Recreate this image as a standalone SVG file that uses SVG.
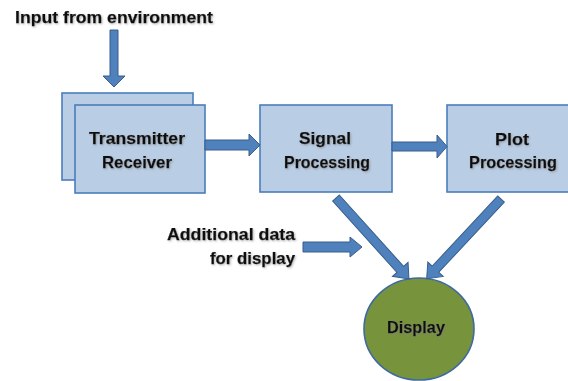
<svg xmlns="http://www.w3.org/2000/svg" width="568" height="381" viewBox="0 0 568 381">
<defs>
<filter id="sh" x="-10%" y="-30%" width="120%" height="160%">
<feDropShadow dx="1" dy="1" stdDeviation="0.8" flood-color="#808080" flood-opacity="0.6"/>
</filter>
</defs>
<style>
.box{fill:#B9CDE5;stroke:#4A7EBB;stroke-width:1.6}
.arr{fill:#4F81BD;stroke:#385D8A;stroke-width:1}
.t{font-family:"Liberation Sans",Arial,sans-serif;font-weight:bold;font-size:16.5px;fill:#111;stroke:#111;stroke-width:0.25;filter:url(#sh)}
.c{text-anchor:middle}
.r{text-anchor:end}
</style>
<rect width="568" height="381" fill="#fff"/>
<g id="input-label">
<text class="t" x="15" y="23" textLength="198" lengthAdjust="spacingAndGlyphs">Input from environment</text>
</g>
<g id="tx-rx">
<rect class="box" x="62" y="93" width="131" height="87"/>
<rect class="box" x="75" y="105" width="130" height="88"/>
<text class="t c" x="137" y="144" textLength="96" lengthAdjust="spacingAndGlyphs">Transmitter</text>
<text class="t c" x="137" y="168" textLength="70" lengthAdjust="spacingAndGlyphs">Receiver</text>
</g>
<g id="signal">
<rect class="box" x="260" y="105" width="132" height="87"/>
<text class="t c" x="325" y="144" textLength="52" lengthAdjust="spacingAndGlyphs">Signal</text>
<text class="t c" x="327" y="168" textLength="86" lengthAdjust="spacingAndGlyphs">Processing</text>
</g>
<g id="plot">
<rect class="box" x="447" y="105" width="132" height="87"/>
<text class="t c" x="512" y="145" textLength="34" lengthAdjust="spacingAndGlyphs">Plot</text>
<text class="t c" x="513" y="168" textLength="88" lengthAdjust="spacingAndGlyphs">Processing</text>
</g>
<g id="additional-label">
<text class="t r" x="295" y="240" textLength="128" lengthAdjust="spacingAndGlyphs">Additional data</text>
<text class="t r" x="295" y="264" textLength="85" lengthAdjust="spacingAndGlyphs">for display</text>
</g>
<g id="display">
<ellipse cx="419" cy="329" rx="55" ry="51" fill="#77933C" stroke="#3D6AA0" stroke-width="1.6"/>
<text class="t c" x="416" y="333" textLength="58" lengthAdjust="spacingAndGlyphs">Display</text>
</g>
<g id="connectors">
<polygon class="arr" points="110,30 118,30 118,76 125,76 114,87 103,76 110,76"/>
<polygon class="arr" points="205,140 249,140 249,134 260,145 249,156 249,150 205,150"/>
<polygon class="arr" points="392,142 437,142 437,135 447,146.5 437,158 437,151 392,151"/>
<polygon class="arr" points="303,242 350,242 350,237 362,247 350,257 350,252 303,252"/>
<polygon class="arr" transform="translate(336,198) rotate(48)" points="0,-4.5 96,-4.5 96,-10.5 109,0 96,10.5 96,4.5 0,4.5"/>
<polygon class="arr" transform="translate(501,199) rotate(133)" points="0,-4.5 96,-4.5 96,-10.5 109,0 96,10.5 96,4.5 0,4.5"/>
</g>
</svg>
